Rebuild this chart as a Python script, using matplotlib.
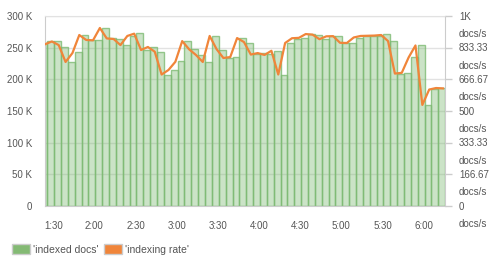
import matplotlib
matplotlib.use("Agg")
import matplotlib.pyplot as plt
from matplotlib.patches import Patch
from matplotlib.transforms import ScaledTranslation
import numpy as np

plt.rcParams['font.family'] = ['Liberation Sans', 'DejaVu Sans']

# time of each sample, minutes after midnight (1:24 .. 6:14, every 5 min)
T_START = 84
STEP = 5

# indexed docs per bucket, thousands
INDEXED_K = [258,
             261, 260, 251, 228, 243, 270, 262, 262, 281, 265,
             264, 254, 269, 273, 247, 251, 243, 207, 215, 229,
             261, 248, 238, 227, 268, 247, 234, 236, 266, 258,
             240, 241, 240, 245, 207, 257, 264, 265, 271, 270,
             264, 268, 268, 258, 258, 266, 268, 269, 269, 271,
             261, 209, 210, 236, 254, 160, 184, 186]

# indexing rate, docs/s
RATE = [851, 866, 847, 758, 805, 900, 874, 872, 937, 882,
        879, 847, 895, 907, 821, 837, 812, 692, 716, 759,
        868, 825, 795, 758, 895, 826, 779, 784, 884, 863,
        797, 805, 795, 817, 692, 858, 883, 885, 905, 902,
        878, 893, 894, 859, 858, 887, 895, 896, 897, 900,
        868, 697, 701, 782, 845, 532, 613, 621, 619]

X_TICKS = [90, 120, 150, 180, 210, 240, 270, 300, 330, 360]
X_LABELS = ["1:30", "2:00", "2:30", "3:00", "3:30", "4:00", "4:30", "5:00", "5:30", "6:00"]

LEFT_TICKS = [0, 50000, 100000, 150000, 200000, 250000, 300000]
LEFT_LABELS = ["0", "50 K", "100 K", "150 K", "200 K", "250 K", "300 K"]

RIGHT_TICKS = [0, 1000/6, 2000/6, 500, 4000/6, 5000/6, 1000]
RIGHT_LABELS = ["0", "166.67", "333.33", "500", "666.67", "833.33", "1K"]

TXT = '#555555'
GRID = '#e2e2e2'
FS = 7

t = T_START + STEP * np.arange(len(RATE))
docs = np.array(INDEXED_K) * 1000

fig = plt.figure(figsize=(5.01, 2.65), dpi=100)
ax = fig.add_axes([0.0898, 0.2226, 0.7984, 0.717])

ax.bar(t - 0.85, docs, width=STEP, color=(0.49, 0.73, 0.45, 0.4),
       edgecolor=(0.49, 0.73, 0.45, 0.8), linewidth=1, zorder=2)
ax.set_ylim(0, 300000)
ax.set_xlim(84, 375.5)
ax.set_yticks(LEFT_TICKS)
ax.set_yticklabels(LEFT_LABELS)
ax.set_xticks(X_TICKS)
ax.set_xticklabels(X_LABELS)
ax.grid(axis='y', color=GRID, linewidth=1)
ax.set_axisbelow(True)
ax.tick_params(axis='y', length=0, pad=9, labelsize=FS, labelcolor=TXT)
ax.tick_params(axis='x', length=0, pad=11, labelsize=FS, labelcolor=TXT)
for s in ['left', 'bottom', 'right']:
    ax.spines[s].set_color('#cccccc')
ax.spines['top'].set_color(GRID)

ax2 = ax.twinx()
ax2.plot(t, RATE, color='#f0853a', linewidth=1.6, zorder=3)
ax2.set_ylim(0, 1000)
ax2.set_yticks(RIGHT_TICKS)
ax2.set_yticklabels([lab + "\ndocs/s" for lab in RIGHT_LABELS],
                    linespacing=1.95, va='top')
ax2.tick_params(axis='y', length=5, width=1, color='#cccccc', pad=5,
                labelsize=FS, labelcolor=TXT)
# lift labels so the number (first line) sits on the tick
shift = ScaledTranslation(0, 3.2 / 72, fig.dpi_scale_trans)
for lab in ax2.get_yticklabels():
    lab.set_transform(lab.get_transform() + shift)
for s in ax2.spines.values():
    s.set_visible(False)

handles = [Patch(facecolor='#84ba74', edgecolor='#cccccc', linewidth=1, label="'indexed docs'"),
           Patch(facecolor='#f0853a', edgecolor='#cccccc', linewidth=1, label="'indexing rate'")]
leg = fig.legend(handles=handles, loc='center left', bbox_to_anchor=(0.024, 0.058),
                 ncol=2, frameon=False, handlelength=1.75, handleheight=1.1,
                 handletextpad=0.25, columnspacing=0.5, fontsize=7.5,
                 borderpad=0, borderaxespad=0)
for txt in leg.get_texts():
    txt.set_color(TXT)

fig.savefig("out.png", dpi=100)
